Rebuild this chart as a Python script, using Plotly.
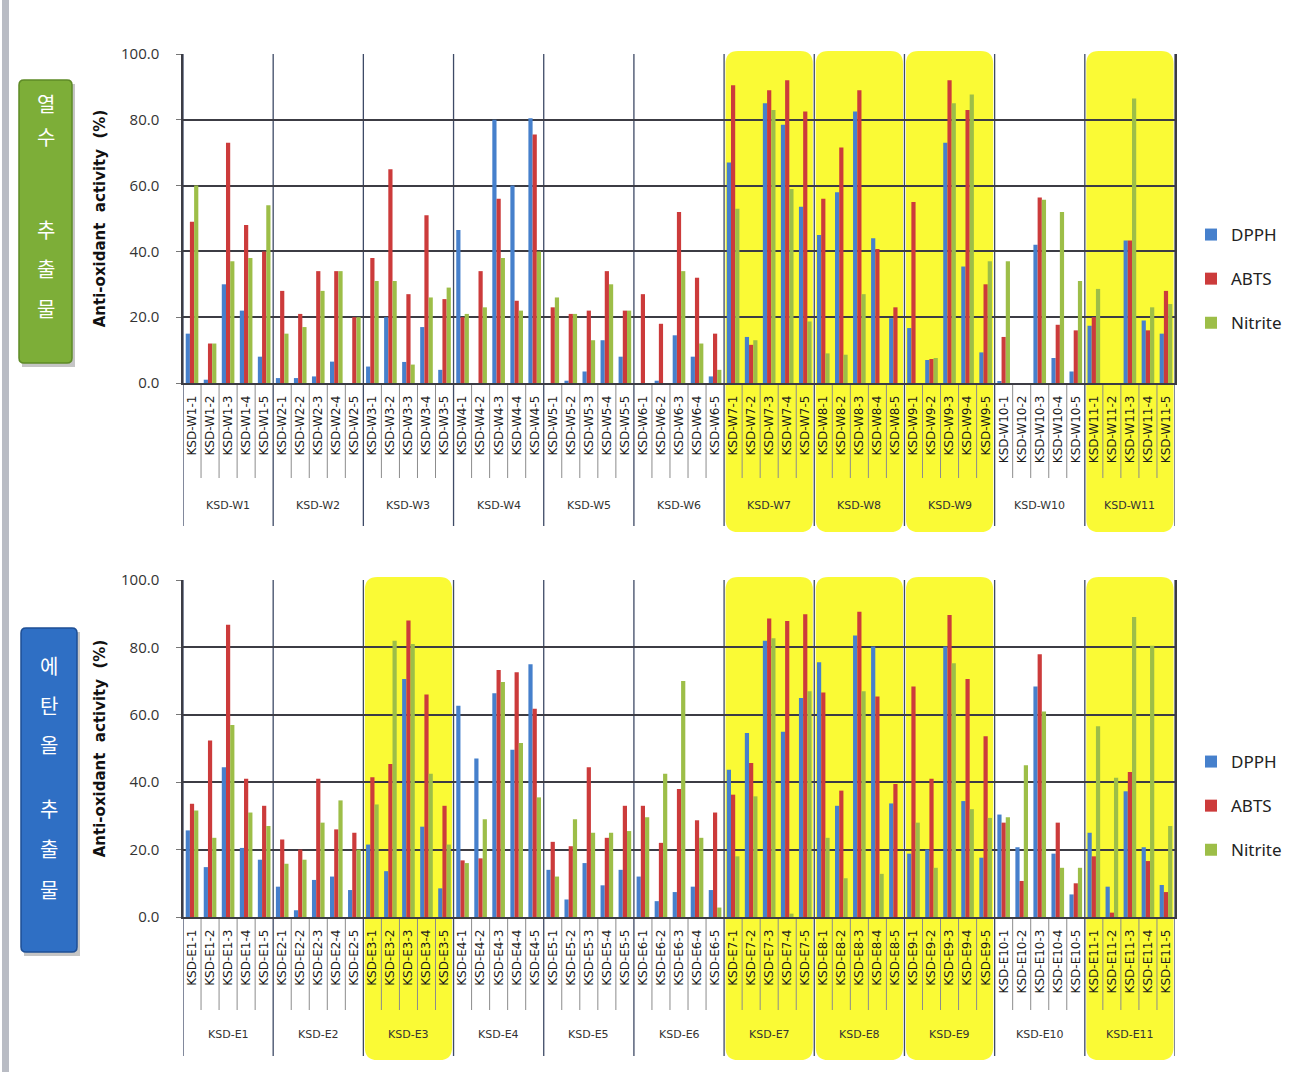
import plotly.graph_objects as go

# ---------------- data ----------------
groups_w = ["KSD-W1", "KSD-W2", "KSD-W3", "KSD-W4", "KSD-W5", "KSD-W6",
            "KSD-W7", "KSD-W8", "KSD-W9", "KSD-W10", "KSD-W11"]
groups_e = ["KSD-E1", "KSD-E2", "KSD-E3", "KSD-E4", "KSD-E5", "KSD-E6",
            "KSD-E7", "KSD-E8", "KSD-E9", "KSD-E10", "KSD-E11"]
replicates = ["1", "2", "3", "4", "5"]
sub_w = [f"{g}-{r}" for g in groups_w for r in replicates]
sub_e = [f"{g}-{r}" for g in groups_e for r in replicates]

highlight_w = ["KSD-W7", "KSD-W8", "KSD-W9", "KSD-W11"]
highlight_e = ["KSD-E3", "KSD-E7", "KSD-E8", "KSD-E9", "KSD-E11"]

series_names = ["DPPH", "ABTS", "Nitrite"]

w_dpph = [15, 1, 30, 22, 8,
          1.5, 1.5, 2, 6.5, 0,
          5, 20, 6.4, 17, 4,
          46.5, 0, 80, 60, 80.5,
          0, 0.7, 3.5, 13, 8,
          0, 0.7, 14.5, 8, 2,
          67, 14, 85, 78.5, 53.6,
          45, 58, 82.5, 44, 19.7,
          16.7, 7, 73, 35.4, 9.3,
          0.5, 0, 42, 7.6, 3.5,
          17.4, 0, 43.3, 19, 15]
w_abts = [49, 12, 73, 48, 40,
          28, 21, 34, 34, 20,
          38, 65, 27, 51, 25.5,
          20, 34, 56, 25, 75.5,
          23, 21, 22, 34, 22,
          27, 18, 52, 32, 15,
          90.5, 11.6, 89, 92, 82.5,
          56, 71.6, 89, 40.7, 23,
          55, 7.3, 92, 83, 30,
          14, 0, 56.4, 17.7, 16,
          20, 0, 43.3, 16, 28]
w_nitrite = [60, 12, 37, 38, 54,
             15, 17, 28, 34, 20,
             31, 31, 5.6, 26, 29,
             21, 23, 38, 22, 40,
             26, 21, 13, 30, 22,
             0, 0, 34, 12, 4,
             53, 13, 83, 59, 18.7,
             9, 8.6, 27, 0, 0,
             0, 7.6, 85, 87.7, 37,
             37, 0, 55.7, 52, 31,
             28.6, 0, 86.5, 23, 24]

e_dpph = [25.7, 14.8, 44.4, 20.5, 17,
          9, 2, 11, 12, 8,
          21.5, 13.6, 70.6, 26.8, 8.5,
          62.7, 47, 66.4, 49.6, 75,
          14, 5.2, 16, 9.4, 14,
          12, 4.7, 7.4, 9, 8,
          43.7, 54.6, 82, 55, 65,
          75.6, 33, 83.5, 80.3, 33.7,
          18.8, 20, 80.3, 34.4, 17.6,
          30.4, 20.7, 68.4, 18.8, 6.7,
          25, 9, 37.3, 20.7, 9.5]
e_abts = [33.6, 52.4, 86.7, 41, 33,
          23, 20, 41, 26, 25,
          41.5, 45.4, 88, 66, 33,
          16.8, 17.4, 73.3, 72.6, 61.8,
          22.3, 21, 44.4, 23.5, 33,
          33, 22, 38, 28.7, 31,
          36.3, 45.7, 88.6, 87.8, 89.8,
          66.6, 37.5, 90.6, 65.4, 39.5,
          68.4, 41, 89.6, 70.6, 53.6,
          28, 10.7, 78, 28, 10,
          18, 1.3, 43, 16.6, 7.4]
e_nitrite = [31.6, 23.5, 57, 31, 27,
             15.8, 17, 28, 34.6, 20,
             33.4, 82, 81, 42.5, 21.5,
             16, 29, 69.7, 51.6, 35.5,
             12, 29, 25, 25, 25.5,
             29.6, 42.5, 70, 23.5, 2.8,
             18, 35.8, 82.7, 1, 67,
             23.5, 11.5, 67, 12.8, 0,
             28, 14.6, 75.3, 32, 29.4,
             29.6, 45, 61, 14.6, 14.6,
             56.6, 41.3, 89, 80.5, 27]

y_ticks = [0, 20, 40, 60, 80, 100]

# ---------------- style ----------------
W, H = 1291, 1072
colors = ["#4680CC", "#CC3B3B", "#9DBE48"]
YELLOW = "#FAFA35"
GRID = "#3C3C44"
SEP = "#3E4A66"


def X(px):
    return px / W


def Y(py):
    return 1 - py / H


fig = go.Figure()

panels = [
    dict(xa="x", ya="y", leg="legend", sub=sub_w, groups=groups_w,
         hl=highlight_w, data=[w_dpph, w_abts, w_nitrite],
         top=54, bottom=383, sub_bot=478, grp_label=506, sep_bot=526,
         hl_top=51, hl_bot=532),
    dict(xa="x2", ya="y2", leg="legend2", sub=sub_e, groups=groups_e,
         hl=highlight_e, data=[e_dpph, e_abts, e_nitrite],
         top=580, bottom=917, sub_bot=1010, grp_label=1034, sep_bot=1056,
         hl_top=577, hl_bot=1060),
]

shapes = []
annotations = []


def rrect(x0, x1, y0, y1, rx, ry):
    return (f"M{x0 + rx},{y0} L{x1 - rx},{y0} Q{x1},{y0} {x1},{y0 + ry} "
            f"L{x1},{y1 - ry} Q{x1},{y1} {x1 - rx},{y1} L{x0 + rx},{y1} "
            f"Q{x0},{y1} {x0},{y1 - ry} L{x0},{y0 + ry} Q{x0},{y0} {x0 + rx},{y0} Z")


for p in panels:
    xs = list(range(len(p["sub"])))
    nrep = len(replicates)
    for name, vals, col in zip(series_names, p["data"], colors):
        fig.add_trace(go.Bar(
            x=xs, y=vals, name=name, marker_color=col, marker_line_width=0,
            xaxis=p["xa"], yaxis=p["ya"], legend=p["leg"],
            legendgroup=f"{p['leg']}_{name}",
        ))
    # yellow highlights
    for g in p["hl"]:
        gi = p["groups"].index(g)
        x0 = gi * nrep - 0.5 + 0.08
        x1 = gi * nrep + nrep - 0.5 - 0.08
        shapes.append(dict(type="path", xref=p["xa"], yref="paper", layer="below",
                           path=rrect(x0, x1, Y(p["hl_bot"]), Y(p["hl_top"]), 0.7, 0.012),
                           fillcolor=YELLOW, line=dict(width=0)))
    # group separators
    for gi in range(len(p["groups"]) + 1):
        xv = gi * nrep - 0.5
        shapes.append(dict(type="line", xref=p["xa"], yref="paper", layer="below",
                           x0=xv, x1=xv, y0=Y(p["sep_bot"]), y1=Y(p["top"]),
                           line=dict(color=SEP, width=1.3)))
    # sub separators
    for k in range(1, len(p["sub"])):
        if k % nrep == 0:
            continue
        xv = k - 0.5
        shapes.append(dict(type="line", xref=p["xa"], yref="paper", layer="below",
                           x0=xv, x1=xv, y0=Y(p["sub_bot"]), y1=Y(p["bottom"]),
                           line=dict(color="#8C8C8C", width=1)))
    # group labels
    for gi, g in enumerate(p["groups"]):
        annotations.append(dict(text=g, xref=p["xa"], yref="paper",
                                x=gi * nrep + (nrep - 1) / 2, y=Y(p["grp_label"]),
                                showarrow=False, yanchor="middle",
                                font=dict(family="DejaVu Sans", size=11, color="#333333")))

# left frame bar
shapes.append(dict(type="rect", xref="paper", yref="paper", layer="below",
                   x0=X(2), x1=X(9), y0=0, y1=1, fillcolor="#B9BCC4", line=dict(width=0)))

# Korean side labels
boxes = [
    dict(x0=19, x1=72, y0=80, y1=363, fill="#7DAE38", edge="#5E8A26",
         chars=[("열", 104), ("수", 136), ("추", 229), ("출", 268), ("물", 308)]),
    dict(x0=21, x1=77, y0=628, y1=952, fill="#2F6FC4", edge="#1E4F95",
         chars=[("에", 665), ("탄", 705), ("올", 744), ("추", 808), ("출", 848), ("물", 889)]),
]
for b in boxes:
    shapes.append(dict(type="rect", xref="paper", yref="paper", layer="above",
                       x0=X(b["x0"] + 3), x1=X(b["x1"] + 3), y0=Y(b["y1"] + 4), y1=Y(b["y0"] + 4),
                       fillcolor="rgba(90,90,90,0.35)", line=dict(width=0)))
    shapes.append(dict(type="path", xref="paper", yref="paper", layer="above",
                       path=rrect(X(b["x0"]), X(b["x1"]), Y(b["y1"]), Y(b["y0"]),
                                  X(5), 5 / H),
                       fillcolor=b["fill"], line=dict(color=b["edge"], width=1.5)))
    cx = (b["x0"] + b["x1"]) / 2
    for ch, cy in b["chars"]:
        annotations.append(dict(text=ch, xref="paper", yref="paper", x=X(cx), y=Y(cy),
                                showarrow=False, xanchor="center", yanchor="middle",
                                font=dict(family="Noto Sans CJK KR", size=20, color="white")))

xdom = [X(183), X(1175)]
axis_font = dict(family="Open Sans", size=15, color="#333333")

layout_axes = {}
for i, p in enumerate(panels):
    suffix = "" if i == 0 else "2"
    layout_axes[f"xaxis{suffix}"] = dict(
        domain=xdom, anchor=p["ya"], range=[-0.5, len(p["sub"]) - 0.5],
        tickmode="array", tickvals=list(range(len(p["sub"]))), ticktext=p["sub"],
        tickangle=-90, showgrid=False, zeroline=False, showline=True,
        linecolor=GRID, linewidth=1.5, ticks="", ticklabelstandoff=6,
        tickfont=dict(family="DejaVu Sans", size=12, color="#1A1A1A"),
        automargin=False,
    )
    layout_axes[f"yaxis{suffix}"] = dict(
        domain=[Y(p["bottom"]), Y(p["top"])], anchor=p["xa"], range=[0, 100],
        tickmode="array", tickvals=y_ticks, tickformat=".1f",
        showgrid=True, gridcolor=GRID, gridwidth=1.5, zeroline=False,
        showline=True, linecolor=GRID, linewidth=1.5, mirror=True,
        ticks="outside", ticklen=5, tickcolor="#777777", ticklabelstandoff=14,
        tickfont=axis_font, automargin=False,
        title=dict(text="<b>Anti-oxidant  activity  (%)</b>", standoff=12,
                   font=dict(family="DejaVu Sans", size=15, color="#111111")),
    )

legend_common = dict(xanchor="left", yanchor="top", bgcolor="rgba(0,0,0,0)",
                     font=dict(family="Noto Sans", size=17, color="#222222"),
                     tracegroupgap=19, itemwidth=30, traceorder="grouped")

fig.update_layout(
    width=W, height=H,
    margin=dict(l=0, r=0, t=0, b=0),
    paper_bgcolor="white", plot_bgcolor="rgba(0,0,0,0)",
    barmode="group", bargap=0.3, bargroupgap=0.0,
    showlegend=True,
    legend=dict(x=X(1191), y=Y(217), **legend_common),
    legend2=dict(x=X(1191), y=Y(744), **legend_common),
    shapes=shapes, annotations=annotations,
    **layout_axes,
)

fig.write_html("out.html", config={"displayModeBar": False},
               post_script="document.body.style.margin='0px';")
